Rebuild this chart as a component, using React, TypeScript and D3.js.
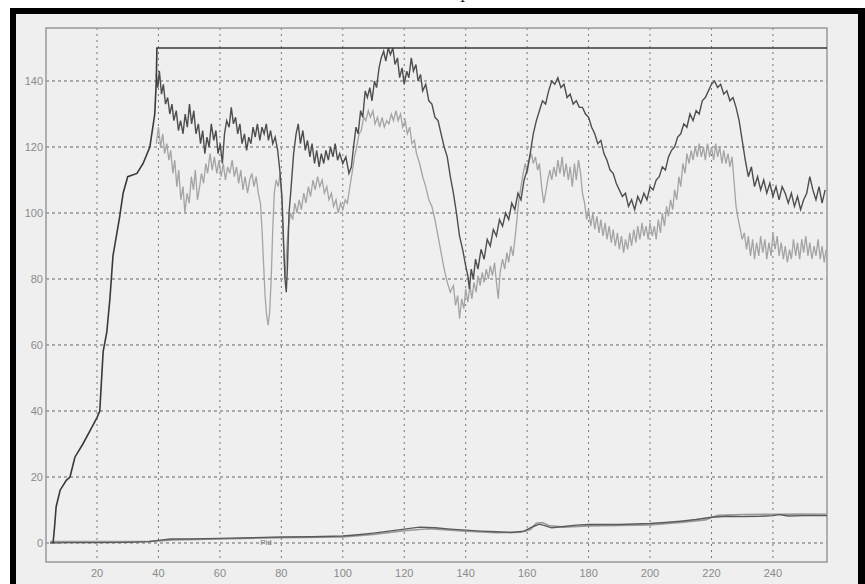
import React from "react";
import * as d3 from "d3";

const xTicks = [20, 40, 60, 80, 100, 120, 140, 160, 180, 200, 220, 240];
const yTicks = [0, 20, 40, 60, 80, 100, 120, 140];

const setpoint: [number, number][] = [
  [5.7, 0], [6.2, 5], [6.7, 11], [8, 16], [10, 19], [11.2, 20], [12.8, 26], [15.4, 30],
  [17.7, 34], [20, 38], [20.9, 40], [22, 58], [23.2, 64], [24.2, 74], [25.2, 87],
  [27.4, 99], [28.5, 106], [30, 111], [33, 112], [35, 115], [37.2, 120], [38.8, 130],
  [39.3, 140], [39.5, 150], [257.6, 150],
];

const speedA: [number, number][] = [
  [39.3,142],[39.8,138],[40.3,143],[41,136],[41.6,139],[42.3,133],[43,135],[43.7,130],[44.4,133],[45,128],[45.8,131],[46.5,125],[47.2,128],[48,124],[48.7,130],[49.4,126],[50.1,133],[50.8,127],[51.5,131],[52.2,124],[53,127],[53.7,121],[54.4,125],[55.1,118],[55.8,123],[56.5,120],[57.2,127],[58,122],[58.7,125],[59.4,118],[60.1,121],[60.8,115],[61.5,124],[62.2,128],[63,126],[63.7,132],[64.4,127],[65.1,129],[65.8,124],[66.5,127],[67.2,121],[68,124],[68.7,119],[69.4,123],[70.1,121],[70.8,126],[71.5,123],[72.2,127],[73,122],[73.7,126],[74.4,124],[75.1,127],[75.8,122],[76.5,125],[77.2,121],[78,123],[78.8,119],[79.5,113],[80.2,105],[80.7,92],[81.2,80],[81.6,76],[82,84],[82.5,100],[83.2,108],[84,118],[84.8,124],[85.5,127],[86.2,121],[87,125],[87.8,119],[88.5,122],[89.3,117],[90,121],[90.8,115],[91.5,119],[92.3,114],[93,118],[93.8,115],[94.5,119],[95.3,116],[96,120],[96.8,117],[97.5,121],[98.3,116],[99,118],[100,115],[101,117],[102,112],[102.8,114],[103.5,120],[104.3,126],[105,124],[105.8,131],[106.5,129],[107.3,137],[108,135],[108.8,138],[109.5,134],[110.3,140],[111,138],[111.8,144],[112.5,147],[113.3,149],[114,146],[114.8,150],[115.5,148],[116.3,150],[117,145],[117.8,147],[118.5,141],[119.3,144],[120,139],[120.8,143],[121.5,141],[122.3,147],[123,143],[123.8,145],[124.5,140],[125.3,142],[126,137],[127,139],[128,134],[129,133],[130,129],[131,128],[132,124],[133,120],[134,117],[135,111],[136,106],[137,100],[138,93],[139,89],[140,84],[140.7,81],[141.2,77],[141.8,83],[142.5,80],[143.2,86],[144,83],[145,89],[146,86],[147,92],[148,90],[149,95],[150,93],[151,98],[152,96],[153,100],[154,98],[155,103],[156,101],[157,106],[158,104],[159,110],[160,113],[161,118],[162,124],[163,128],[164,131],[165,134],[166,133],[167,137],[168,140],[169,139],[170,141],[171,138],[172,139],[173,135],[174,136],[175,133],[176,134],[177,132],[178,132],[179,130],[180,129],[181,126],[182,124],[183,121],[184,122],[185,118],[186,116],[187,113],[188,112],[189,109],[190,107],[191,105],[192,106],[193,102],[194,104],[195,101],[196,105],[197,103],[198,106],[199,104],[200,108],[201,107],[202,110],[203,111],[204,114],[205,113],[206,117],[207,119],[208,120],[209,123],[210,124],[211,127],[212,126],[213,130],[214,128],[215,131],[216,130],[217,134],[218,135],[219,137],[220,139],[221,140],[222,138],[223,139],[224,136],[225,137],[226,134],[227,135],[228,132],[229,128],[230,122],[231,116],[232,111],[233,114],[234,108],[235,111],[236,107],[237,110],[238,106],[239,109],[240,105],[241,108],[242,104],[243,108],[244,106],[245,103],[246,106],[247,102],[248,105],[249,101],[250,104],[251,106],[252,111],[253,107],[254,104],[255,108],[256,103],[257,107],
];

const speedB: [number, number][] = [
  [39.3,121],[40,126],[40.7,120],[41.4,124],[42,118],[42.7,121],[43.4,116],[44,119],[44.7,112],[45.3,116],[46,108],[46.6,113],[47.3,104],[48,108],[48.6,100],[49.3,106],[50,103],[50.7,111],[51.4,107],[52,113],[52.7,104],[53.4,108],[54,112],[54.7,109],[55.4,115],[56,112],[56.8,118],[57.5,113],[58.2,117],[59,112],[59.7,116],[60.4,111],[61.1,115],[61.8,110],[62.5,114],[63.2,112],[64,116],[64.7,111],[65.4,114],[66.1,109],[66.8,113],[67.5,107],[68.2,111],[69,106],[69.7,110],[70.4,112],[71.1,108],[71.8,111],[72.5,106],[73.2,103],[73.7,95],[74.2,85],[74.7,75],[75.2,69],[75.7,66],[76.2,70],[76.7,80],[77.2,95],[77.7,106],[78.3,110],[79,108],[79.6,112],[80.2,103],[80.7,90],[81.2,80],[81.7,88],[82.3,96],[83,100],[83.7,98],[84.4,103],[85.1,100],[85.8,104],[86.5,101],[87.3,106],[88,103],[88.8,108],[89.5,105],[90.3,110],[91,107],[91.8,111],[92.5,108],[93.3,110],[94,106],[94.8,108],[95.5,104],[96.3,106],[97,102],[97.8,104],[98.5,100],[99.3,103],[100,101],[100.8,104],[101.5,103],[102.3,108],[103,112],[103.8,117],[104.5,120],[105.3,124],[106,125],[106.8,129],[107.5,128],[108.3,131],[109,129],[109.8,131],[110.5,127],[111.3,129],[112,126],[112.8,129],[113.5,126],[114.3,128],[115,127],[115.8,130],[116.5,128],[117.3,131],[118,128],[118.8,130],[119.5,126],[120.3,128],[121,124],[121.8,126],[122.5,121],[123.3,122],[124,118],[125,115],[126,111],[127,108],[128,104],[129,102],[130,98],[131,93],[132,88],[133,83],[134,79],[135,76],[136,78],[136.7,72],[137.4,75],[138,68],[138.7,74],[139.4,71],[140,77],[140.7,73],[141.4,78],[142,74],[142.7,79],[143.4,76],[144,81],[144.7,78],[145.4,82],[146,79],[146.7,83],[147.4,80],[148,84],[148.7,81],[149.4,85],[150,79],[150.6,74],[151.2,82],[152,86],[152.7,83],[153.4,88],[154,85],[154.7,90],[155.4,87],[156,92],[156.7,98],[157.3,104],[158,108],[158.7,112],[159.4,115],[160,112],[160.7,116],[161.4,118],[162,115],[162.7,117],[163.4,113],[164,115],[164.7,108],[165.4,103],[166,106],[166.7,110],[167.4,113],[168,110],[168.7,114],[169.4,111],[170,116],[170.7,112],[171.4,117],[172,111],[172.7,115],[173.4,110],[174,114],[174.7,108],[175.4,115],[176,110],[176.7,116],[177.4,112],[178,106],[178.7,103],[179.4,98],[180,101],[180.7,96],[181.4,100],[182,95],[182.7,99],[183.4,94],[184,98],[184.7,93],[185.4,97],[186,92],[186.7,96],[187.4,91],[188,95],[188.7,90],[189.4,94],[190,89],[190.7,93],[191.4,88],[192,92],[192.7,89],[193.4,94],[194,90],[194.7,95],[195.4,91],[196,96],[196.7,92],[197.4,97],[198,93],[198.7,96],[199.4,92],[200,97],[200.7,93],[201.4,96],[202,92],[202.7,98],[203.4,94],[204,100],[204.7,96],[205.4,102],[206,99],[206.7,104],[207.4,101],[208,107],[208.7,104],[209.4,111],[210,108],[210.7,115],[211.4,112],[212,118],[212.7,115],[213.4,119],[214,116],[214.7,120],[215.4,117],[216,121],[216.7,117],[217.4,120],[218,116],[218.7,121],[219.4,117],[220,120],[220.7,116],[221.4,121],[222,117],[222.7,120],[223.4,115],[224,119],[224.7,115],[225.4,118],[226,114],[226.7,117],[227.3,110],[228,102],[228.7,98],[229.4,95],[230,92],[230.7,94],[231.4,89],[232,93],[232.7,87],[233.4,92],[234,86],[234.7,91],[235.4,87],[236,93],[236.7,88],[237.4,92],[238,86],[238.7,91],[239.4,87],[240,94],[240.7,89],[241.4,93],[242,87],[242.7,91],[243.4,86],[244,90],[244.7,85],[245.4,89],[246,86],[246.7,92],[247.4,87],[248,91],[248.7,86],[249.4,92],[250,88],[250.7,93],[251.4,87],[252,91],[252.7,86],[253.4,90],[254,87],[254.7,92],[255.4,86],[256,90],[256.7,85],[257.3,89],
];

const outputA: [number, number][] = [
  [4.7,0],[10,0.1],[20,0.1],[30,0.2],[37,0.4],[40,0.8],[44,1.2],[50,1.2],[60,1.4],[70,1.6],[80,1.8],[90,1.9],[100,2.1],[105,2.5],[110,3],[115,3.6],[120,4.2],[125,4.8],[130,4.6],[135,4.2],[140,3.9],[145,3.6],[150,3.4],[155,3.2],[159,3.6],[162,5],[164,5.7],[166,5.2],[168,4.6],[172,5],[176,5.4],[180,5.6],[190,5.6],[200,5.9],[205,6.2],[210,6.6],[215,7.1],[220,7.8],[225,8.1],[230,8],[236,8.1],[240,8.3],[242,8.6],[245,8.2],[250,8.3],[257.6,8.3],
];

const outputB: [number, number][] = [
  [4.7,0.4],[20,0.4],[37,0.5],[45,0.9],[60,1.2],[80,1.6],[100,1.8],[110,2.6],[120,3.7],[128,4.3],[140,3.6],[150,3.1],[158,3.3],[161,4],[163,6],[165,6.2],[167,5.3],[172,4.8],[180,5.2],[190,5.3],[200,5.5],[210,6.2],[218,7],[222,8.4],[230,8.6],[240,8.7],[250,8.8],[257.6,8.7],
];

const W = 865;
const H = 584;
const plot = { left: 46, right: 827, top: 28, bottom: 562 };

export default function App() {
  const x = d3.scaleLinear().domain([3.4, 257.6]).range([plot.left, plot.right]);
  const y = d3.scaleLinear().domain([-5.76, 156.06]).range([plot.bottom, plot.top]);
  const line = d3
    .line<[number, number]>()
    .x((d) => x(d[0]))
    .y((d) => y(d[1]));

  const font = "'Liberation Sans', Arial, sans-serif";

  return (
    <div style={{ position: "fixed", left: 0, top: 0 }}>
      <svg width={W} height={H} style={{ display: "block", background: "#ffffff" }}>
        <text x={465} y={-1} fontSize={15} fontFamily="'DejaVu Serif', serif" textAnchor="middle" fill="#222">
          p
        </text>
        <rect x={10} y={8} width={W - 10} height={H - 8} fill="#000" />
        <rect x={16} y={14} width={858 - 16} height={H - 14} fill="#efefef" />
        <defs>
          <clipPath id="plotclip">
            <rect x={plot.left} y={plot.top} width={plot.right - plot.left} height={plot.bottom - plot.top} />
          </clipPath>
        </defs>
        {/* grid */}
        {xTicks.map((t) => (
          <line
            key={"gx" + t}
            x1={x(t)}
            x2={x(t)}
            y1={plot.top}
            y2={plot.bottom}
            stroke="#777"
            strokeWidth={1}
            strokeDasharray="2,4"
          />
        ))}
        {yTicks.map((t) => (
          <line
            key={"gy" + t}
            x1={plot.left}
            x2={plot.right}
            y1={y(t)}
            y2={y(t)}
            stroke="#666"
            strokeWidth={1}
            strokeDasharray="3,3"
          />
        ))}
        {/* frame */}
        <rect
          x={plot.left}
          y={plot.top}
          width={plot.right - plot.left}
          height={plot.bottom - plot.top}
          fill="none"
          stroke="#9a9a9a"
          strokeWidth={1.5}
        />
        {/* tick labels */}
        {yTicks.map((t) => (
          <text
            key={"ly" + t}
            x={plot.left - 3}
            y={y(t)}
            dy="0.35em"
            textAnchor="end"
            fontSize={11}
            fontFamily={font}
            fill="#8a8a8a"
          >
            {t}
          </text>
        ))}
        {xTicks.map((t) => (
          <text
            key={"lx" + t}
            x={x(t)}
            y={plot.bottom + 11}
            dy="0.35em"
            textAnchor="middle"
            fontSize={11}
            fontFamily={font}
            fill="#8a8a8a"
          >
            {t}
          </text>
        ))}
        <g clipPath="url(#plotclip)">
          <path d={line(outputB) || ""} fill="none" stroke="#9a9a9a" strokeWidth={1.6} />
          <path d={line(outputA) || ""} fill="none" stroke="#5a5a5a" strokeWidth={1.4} />
          <path d={line(speedB) || ""} fill="none" stroke="#a4a4a4" strokeWidth={1.3} />
          <path d={line(speedA) || ""} fill="none" stroke="#4e4e4e" strokeWidth={1.4} />
          <path d={line(setpoint) || ""} fill="none" stroke="#3a3a3a" strokeWidth={1.6} />
        </g>
        <text x={x(75)} y={y(0) - 1} dy="0.35em" textAnchor="middle" fontSize={8} fontFamily={font} fill="#777">
          Pid
        </text>
      </svg>
    </div>
  );
}
